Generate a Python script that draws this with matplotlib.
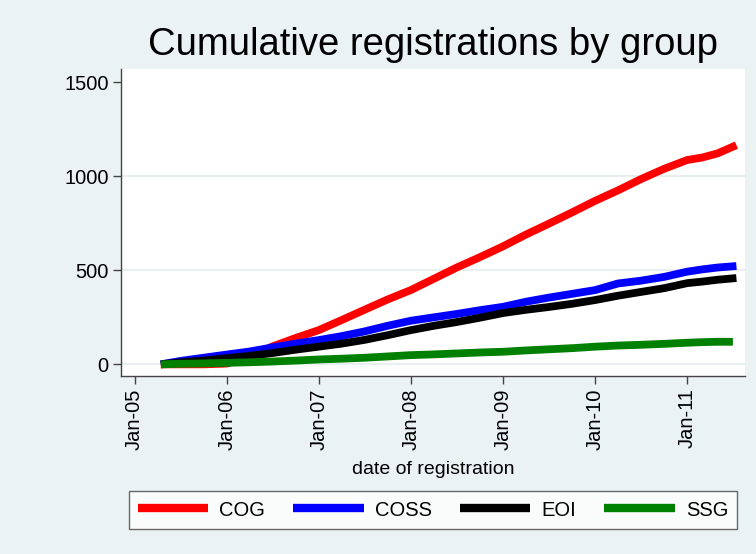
import matplotlib
matplotlib.use("Agg")
import matplotlib.pyplot as plt
import matplotlib.dates as mdates
import pandas as pd

# ---- data ----
dates = ["2005-04-15", "2005-07-01", "2005-10-01", "2006-01-01", "2006-04-01",
         "2006-07-01", "2006-10-01", "2007-01-01", "2007-04-01", "2007-07-01",
         "2007-10-01", "2008-01-01", "2008-04-01", "2008-07-01", "2008-10-01",
         "2009-01-01", "2009-04-01", "2009-07-01", "2009-10-01", "2010-01-01",
         "2010-04-01", "2010-07-01", "2010-10-01", "2011-01-01", "2011-03-01",
         "2011-05-01", "2011-07-15"]
cog = [0, 0, 0, 4, 40, 95, 140, 182, 235, 290, 345, 395, 455, 515, 570,
       628, 690, 748, 808, 870, 925, 985, 1040, 1087, 1100, 1122, 1166]
coss = [0, 18, 35, 52, 68, 90, 110, 129, 150, 175, 205, 232, 250, 268, 288,
        306, 333, 355, 375, 395, 430, 445, 465, 493, 505, 515, 523]
eoi = [0, 10, 20, 33, 45, 60, 78, 94, 110, 130, 155, 182, 205, 225, 248,
       273, 290, 305, 322, 342, 365, 385, 405, 432, 440, 450, 459]
ssg = [0, 3, 5, 8, 11, 15, 20, 26, 30, 35, 42, 49, 53, 58, 63,
       67, 74, 80, 86, 94, 100, 104, 109, 115, 118, 120, 120]
ssg_end = "2011-07-01"

series_names = ["COG", "COSS", "EOI", "SSG"]
series_colors = ["#FF0000", "#0000FF", "#000000", "#008000"]

yticks = [0, 500, 1000, 1500]
xtick_dates = ["2005-01-01", "2006-01-01", "2007-01-01", "2008-01-01",
               "2009-01-01", "2010-01-01", "2011-01-01"]

# ---- figure ----
plt.rcParams['font.family'] = ['Liberation Sans', 'DejaVu Sans']
bg = "#EAF2F3"
fig = plt.figure(figsize=(7.56, 5.54), dpi=100, facecolor=bg)
ax = fig.add_axes([121/756, 1-376/554, (745-121)/756, (376-69)/554])
ax.set_facecolor("white")

d = pd.to_datetime(dates)
d_ssg = pd.to_datetime(dates[:-1] + [ssg_end])
data = [cog, coss, eoi, ssg]
for name, col, vals in zip(series_names, series_colors, data):
    xx = d_ssg if name == "SSG" else d
    ax.plot(xx, vals, color=col, lw=5.6, label=name, solid_capstyle="butt",
            solid_joinstyle="round")

ax.set_ylim(-62, 1571)
ax.set_xlim(pd.Timestamp("2004-11-08"), pd.Timestamp("2011-08-18"))

ax.set_yticks(yticks)
ax.set_yticklabels([str(v) for v in yticks])
ax.set_xticks(pd.to_datetime(xtick_dates))
ax.xaxis.set_major_formatter(mdates.DateFormatter("%b-%y"))
plt.setp(ax.get_xticklabels(), rotation=90)

for v in [0, 500, 1000]:
    ax.axhline(v, color="#E3ECEF", lw=1.2, zorder=0)

for s in ["top", "right"]:
    ax.spines[s].set_visible(False)
for s in ["left", "bottom"]:
    ax.spines[s].set_color("#444444")
    ax.spines[s].set_linewidth(1.0)
ax.tick_params(axis="both", length=6, width=1, color="#444444",
               labelsize=14.5, labelcolor="black", pad=3)

ax.set_xlabel("date of registration", fontsize=14, labelpad=8)
fig.text(433/756, 1-45/554, "Cumulative registrations by group",
         fontsize=27.5, ha="center", va="center")

leg = fig.legend(loc="center", bbox_to_anchor=(433/756, 1-510/554), ncol=4,
                 fontsize=14.5, handlelength=3.5, handletextpad=0.55,
                 columnspacing=1.4, frameon=True, fancybox=False,
                 borderpad=0.45)
leg.get_frame().set_edgecolor("#444444")
leg.get_frame().set_linewidth(1.0)
for line in leg.get_lines():
    line.set_linewidth(6)

fig.savefig("out.png", dpi=100, facecolor=bg)
